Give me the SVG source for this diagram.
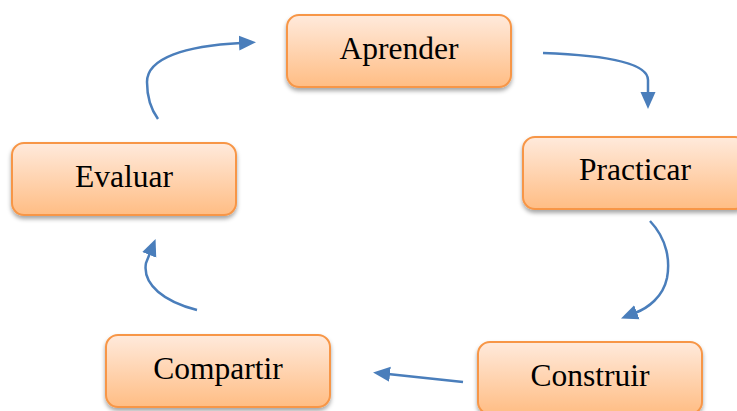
<svg xmlns="http://www.w3.org/2000/svg" width="737" height="411" viewBox="0 0 737 411">
<defs>
<linearGradient id="g" x1="0" y1="0" x2="0" y2="1">
<stop offset="0" stop-color="#FFEADC"/>
<stop offset="1" stop-color="#FFBD84"/>
</linearGradient>
<filter id="sh" x="-10%" y="-20%" width="120%" height="150%">
<feDropShadow dx="0" dy="3" stdDeviation="2.2" flood-color="#000" flood-opacity="0.35"/>
</filter>
<marker id="ah" markerUnits="userSpaceOnUse" markerWidth="17" markerHeight="17" viewBox="0 0 17 17" refX="2" refY="8.5" orient="auto">
<path d="M0,1 L17,8.5 L0,16 Z" fill="#4A7EBB"/>
</marker>
<style>
.box{fill:url(#g);stroke:#F79646;stroke-width:2;filter:url(#sh)}
.lbl{font-family:"Liberation Serif","Times New Roman",serif;font-size:31.5px;fill:#000;text-anchor:middle}
.con{fill:none;stroke:#4A7EBB;stroke-width:2.5;marker-end:url(#ah)}
</style>
</defs>
<rect width="737" height="411" fill="#fff"/>
<g id="connectors">
<path class="con" d="M543,53 C600,55 648,62 648,80 L648,94"/>
<path class="con" d="M650,221 C668,240 670,262 667,278 C663,297 648,308 635,313"/>
<path class="con" d="M463,382 L388,374"/>
<path class="con" d="M197,310 C165,302 142,285 146,263 L150,253"/>
<path class="con" d="M158,119 C150,108 147,96 147,82 C147,58 185,46 241,43"/>
</g>
<g id="aprender">
<rect class="box" x="287" y="15" width="224" height="72" rx="12"/>
<text class="lbl" x="399" y="59">Aprender</text>
</g>
<g id="practicar">
<rect class="box" x="523" y="137" width="224" height="72" rx="12"/>
<text class="lbl" x="635" y="180">Practicar</text>
</g>
<g id="construir">
<rect class="box" x="478" y="342" width="224" height="72" rx="12"/>
<text class="lbl" x="590" y="386">Construir</text>
</g>
<g id="compartir">
<rect class="box" x="106" y="335" width="224" height="72" rx="12"/>
<text class="lbl" x="218" y="379">Compartir</text>
</g>
<g id="evaluar">
<rect class="box" x="12" y="143" width="224" height="72" rx="12"/>
<text class="lbl" x="124" y="187">Evaluar</text>
</g>
</svg>
